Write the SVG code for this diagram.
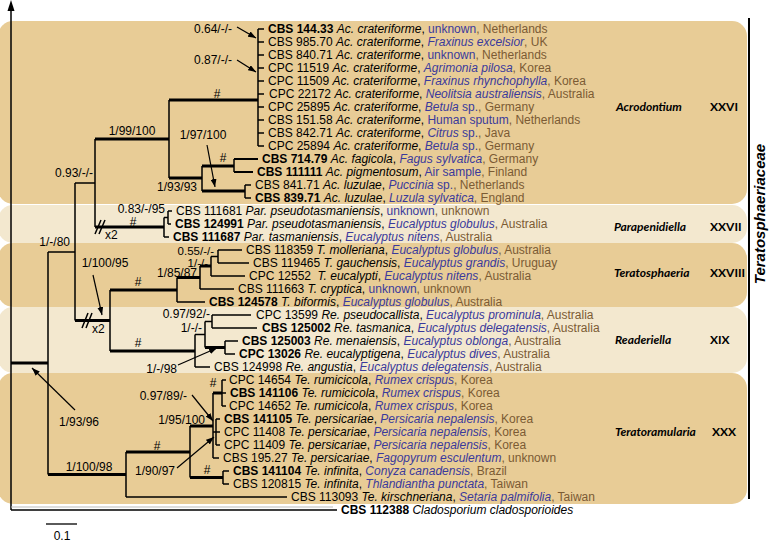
<svg xmlns="http://www.w3.org/2000/svg" width="773" height="544" viewBox="0 0 773 544">
<style>
.t{font-family:"Liberation Sans",Arial,sans-serif;font-size:12px;fill:#000}
.b{font-weight:bold}
.i{font-style:italic}
.h{fill:#3a3a9c}
.c{fill:#7b5b34}
.cl{font-family:Lato,"Liberation Sans",sans-serif;font-size:12px;font-weight:bold;fill:#000}
.br{stroke:#000;stroke-width:1.5;fill:none}
.tk{stroke:#000;stroke-width:3;fill:none}
.md{stroke:#000;stroke-width:2;fill:none}
.ar{stroke:#000;stroke-width:1.2;fill:none;marker-end:url(#ah)}
.box1{fill:#e8cc96}
.box2{fill:#f3e8cf}
</style>
<defs>
<marker id="ah" viewBox="0 0 8 6" refX="8" refY="3" markerWidth="8" markerHeight="6" orient="auto" markerUnits="userSpaceOnUse"><path d="M0,0 L8,3 L0,6 z" fill="#000"/></marker>
</defs>
<rect width="773" height="544" fill="#fff"/>
<g id="clade-boxes">
<rect class="box1" x="-2" y="21" width="749" height="183" rx="15"/>
<rect class="box2" x="-2" y="205" width="749" height="38" rx="15"/>
<rect class="box1" x="-2" y="243" width="749" height="64" rx="15"/>
<rect class="box2" x="-2" y="307" width="749" height="66" rx="15"/>
<rect class="box1" x="-2" y="373" width="749" height="131" rx="15"/>
</g>
<g id="axis">
<line x1="11" y1="9" x2="11" y2="510" stroke="#000" stroke-width="1.5"/>
<path d="M11,0 L7.5,11 L14.5,11 Z" fill="#000"/>
<line x1="11" y1="507" x2="333" y2="507" stroke="#bbb" stroke-width="1"/>
</g>
<g id="connectors">
<path class="br" d="M48,252V474.5 M75,183V320.5 M95,139V227 M169,100V178 M258,29V146 M202,166V191 M234,159V172 M245,185V198 M164,217.5V237 M168,211V224 M110,290V351 M177,277.5V302 M200,266V289 M211,256.5V276 M218,250V263 M195,334.5V367 M205,321.5V347.5 M212,315V328 M225,341V354 M126,452V497 M190,426V477.5 M213,393V458 M222,380V406 M216,419V445 M223,471V484"/>
<path class="br" d="M48,252H75 M75,183H95 M164,217.5H168 M211,256.5H218 M195,334.5H205 M205,321.5H212 M213,432H216"/>
<path class="tk" d="M11,363H48 M95,139H169 M169,100H258 M169,178H202 M202,166H234 M202,191H245 M95,227H164 M75,320.5H110 M110,290H177 M177,277.5H200 M200,266H211 M110,351H195 M205,347.5H225 M48,474.5H126 M126,452H190 M190,426H213 M213,393H222 M190,477.5H223"/>
<path class="br" d="M258,29H264 M258,42H264 M258,55H264 M258,68H264 M258,81H264 M258,94H264 M258,107H264 M258,120H264 M258,133H264 M258,146H264"/>
<path class="md" d="M234,159H258 M234,172H253"/>
<path class="br" d="M245,185H251 M245,198H251 M168,211H172 M168,224H171 M164,237H169 M218,250H242 M218,263H249 M211,276H245 M200,289H234 M177,302H205 M212,315H251 M212,328H257 M225,341H238 M225,354H235 M195,367H210 M222,380H226 M222,393H226 M222,406H226 M216,419H220 M216,432H220 M216,445H220 M213,458H219 M223,471H229 M223,484H229 M126,497H287 M11,510H337"/>
<path class="br" d="M95,234L101,220 M99,234L105,220 M82,328L88,313 M86,328L92,313"/>
<line class="ar" x1="237" y1="27" x2="256" y2="38"/>
<line class="ar" x1="237" y1="60" x2="256" y2="72"/>
<line class="ar" x1="207" y1="145" x2="215" y2="187"/>
<line class="ar" x1="93" y1="275" x2="102" y2="315"/>
<line class="ar" x1="178" y1="365" x2="217" y2="348"/>
<line class="ar" x1="75" y1="410" x2="32" y2="368"/>
<line class="ar" x1="192" y1="395" x2="213" y2="421"/>
<line class="ar" x1="177" y1="468" x2="214" y2="437"/>
</g>
<g id="support-values" class="t">
<text x="232" y="33" text-anchor="end">0.64/-/-</text>
<text x="232" y="64" text-anchor="end">0.87/-/-</text>
<text x="217" y="98" text-anchor="middle">#</text>
<text x="132" y="135" text-anchor="middle">1/99/100</text>
<text x="93" y="177" text-anchor="end">0.93/-/-</text>
<text x="203" y="139" text-anchor="middle">1/97/100</text>
<text x="223" y="162" text-anchor="middle">#</text>
<text x="197" y="191" text-anchor="end">1/93/93</text>
<text x="165" y="213" text-anchor="end">0.83/-/95</text>
<text x="133" y="226" text-anchor="middle">#</text>
<text x="105" y="239">x2</text>
<text x="70" y="246" text-anchor="end">1/-/80</text>
<text x="105" y="267" text-anchor="middle">1/100/95</text>
<text x="138" y="286" text-anchor="middle">#</text>
<text x="214" y="254.5" text-anchor="end" font-size="11.5">0.55/-/-</text>
<text x="208" y="266.5" text-anchor="end" font-size="11.5">1/-/-</text>
<text x="197" y="277" text-anchor="end">1/85/87</text>
<text x="210" y="318" text-anchor="end">0.97/92/-</text>
<text x="202" y="332" text-anchor="end">1/-/-</text>
<text x="92" y="333">x2</text>
<text x="138" y="347" text-anchor="middle">#</text>
<text x="177" y="373" text-anchor="end">1/-/98</text>
<text x="79" y="426" text-anchor="middle">1/93/96</text>
<text x="213" y="387" text-anchor="middle">#</text>
<text x="187" y="400" text-anchor="end">0.97/89/-</text>
<text x="205" y="424" text-anchor="end">1/95/100</text>
<text x="157" y="450" text-anchor="middle">#</text>
<text x="89" y="471" text-anchor="middle">1/100/98</text>
<text x="175" y="475" text-anchor="end">1/90/97</text>
<text x="207" y="474" text-anchor="middle">#</text>
</g>
<g id="taxa" class="t">
<g id="r01"><text x="268" y="33"><tspan class="b">CBS 144.33</tspan> <tspan class="i">Ac. crateriforme</tspan>, <tspan class="h">unknown</tspan><tspan class="c">, Netherlands</tspan></text></g>
<g id="r02"><text x="268" y="46">CBS 985.70 <tspan class="i">Ac. crateriforme</tspan>, <tspan class="h i">Fraxinus excelsior</tspan><tspan class="c">, UK</tspan></text></g>
<g id="r03"><text x="268" y="59">CBS 840.71 <tspan class="i">Ac. crateriforme</tspan>, <tspan class="h">unknown</tspan><tspan class="c">, Netherlands</tspan></text></g>
<g id="r04"><text x="268" y="72">CPC 11519 <tspan class="i">Ac. crateriforme</tspan>, <tspan class="h i">Agrimonia pilosa</tspan><tspan class="c">, Korea</tspan></text></g>
<g id="r05"><text x="268" y="85">CPC 11509 <tspan class="i">Ac. crateriforme</tspan>, <tspan class="h i">Fraxinus rhynchophylla</tspan><tspan class="c">, Korea</tspan></text></g>
<g id="r06"><text x="269" y="98">CPC 22172 <tspan class="i">Ac. crateriforme</tspan>, <tspan class="h i">Neolitsia australiensis</tspan><tspan class="c">, Australia</tspan></text></g>
<g id="r07"><text x="268" y="111">CPC 25895 <tspan class="i">Ac. crateriforme</tspan>, <tspan class="h"><tspan class="i">Betula</tspan> sp.</tspan><tspan class="c">, Germany</tspan></text></g>
<g id="r08"><text x="268" y="124">CBS 151.58 <tspan class="i">Ac. crateriforme</tspan>, <tspan class="h">Human sputum</tspan><tspan class="c">, Netherlands</tspan></text></g>
<g id="r09"><text x="268" y="137">CBS 842.71 <tspan class="i">Ac. crateriforme</tspan>, <tspan class="h"><tspan class="i">Citrus</tspan> sp.</tspan><tspan class="c">, Java</tspan></text></g>
<g id="r10"><text x="268" y="150">CPC 25894 <tspan class="i">Ac. crateriforme</tspan>, <tspan class="h"><tspan class="i">Betula</tspan> sp.</tspan><tspan class="c">, Germany</tspan></text></g>
<g id="r11"><text x="262" y="163"><tspan class="b">CBS 714.79</tspan> <tspan class="i">Ac. fagicola</tspan>, <tspan class="h i">Fagus sylvatica</tspan><tspan class="c">, Germany</tspan></text></g>
<g id="r12"><text x="257" y="176"><tspan class="b">CBS 111111</tspan> <tspan class="i">Ac. pigmentosum</tspan>, <tspan class="h">Air sample</tspan><tspan class="c">, Finland</tspan></text></g>
<g id="r13"><text x="255" y="189">CBS 841.71 <tspan class="i">Ac. luzulae</tspan>, <tspan class="h"><tspan class="i">Puccinia</tspan> sp.</tspan><tspan class="c">, Netherlands</tspan></text></g>
<g id="r14"><text x="255" y="202"><tspan class="b">CBS 839.71</tspan> <tspan class="i">Ac. luzulae</tspan>, <tspan class="h i">Luzula sylvatica</tspan><tspan class="c">, England</tspan></text></g>
<g id="r15"><text x="176" y="215">CBS 111681 <tspan class="i">Par. pseudotasmaniensis</tspan>, <tspan class="h">unknown</tspan><tspan class="c">, unknown</tspan></text></g>
<g id="r16"><text x="175" y="228"><tspan class="b">CBS 124991</tspan> <tspan class="i">Par. pseudotasmaniensis</tspan>, <tspan class="h i">Eucalyptus globulus</tspan><tspan class="c">, Australia</tspan></text></g>
<g id="r17"><text x="173" y="241"><tspan class="b">CBS 111687</tspan> <tspan class="i">Par. tasmaniensis</tspan>, <tspan class="h i">Eucalyptus nitens</tspan><tspan class="c">, Australia</tspan></text></g>
<g id="r18"><text x="246" y="254">CBS 118359 <tspan class="i">T. molleriana</tspan>, <tspan class="h i">Eucalyptus globulus</tspan><tspan class="c">, Australia</tspan></text></g>
<g id="r19"><text x="253" y="267">CBS 119465 <tspan class="i">T. gauchensis</tspan>, <tspan class="h i">Eucalyptus grandis</tspan><tspan class="c">, Uruguay</tspan></text></g>
<g id="r20"><text x="249" y="280">CPC 12552 <tspan class="i" dx="3">T. eucalypti</tspan>, <tspan class="h i">Eucalyptus nitens</tspan><tspan class="c">, Australia</tspan></text></g>
<g id="r21"><text x="238" y="293">CBS 111663 <tspan class="i">T. cryptica</tspan>, <tspan class="h">unknown</tspan><tspan class="c">, unknown</tspan></text></g>
<g id="r22"><text x="209" y="306"><tspan class="b">CBS 124578</tspan> <tspan class="i">T. biformis</tspan>, <tspan class="h i">Eucalyptus globulus</tspan><tspan class="c">, Australia</tspan></text></g>
<g id="r23"><text x="256" y="319">CPC 13599 <tspan class="i">Re. pseudocallista</tspan>, <tspan class="h i">Eucalyptus prominula</tspan><tspan class="c">, Australia</tspan></text></g>
<g id="r24"><text x="262" y="332"><tspan class="b">CBS 125002</tspan> <tspan class="i">Re. tasmanica</tspan>, <tspan class="h i">Eucalyptus delegatensis</tspan><tspan class="c">, Australia</tspan></text></g>
<g id="r25"><text x="242" y="345"><tspan class="b">CBS 125003</tspan> <tspan class="i">Re. menaiensis</tspan>, <tspan class="h i">Eucalyptus oblonga</tspan><tspan class="c">, Australia</tspan></text></g>
<g id="r26"><text x="239" y="358"><tspan class="b">CPC 13026</tspan> <tspan class="i">Re. eucalyptigena</tspan>, <tspan class="h i">Eucalyptus dives</tspan><tspan class="c">, Australia</tspan></text></g>
<g id="r27"><text x="214" y="371">CBS 124998 <tspan class="i">Re. angustia</tspan>, <tspan class="h i">Eucalyptus delegatensis</tspan><tspan class="c">, Australia</tspan></text></g>
<g id="r28"><text x="229" y="384">CPC 14654 <tspan class="i">Te. rumicicola</tspan>, <tspan class="h i">Rumex crispus</tspan><tspan class="c">, Korea</tspan></text></g>
<g id="r29"><text x="230" y="397"><tspan class="b">CBS 141106</tspan> <tspan class="i">Te. rumicicola</tspan>, <tspan class="h i">Rumex crispus</tspan><tspan class="c">, Korea</tspan></text></g>
<g id="r30"><text x="229" y="410">CPC 14652 <tspan class="i">Te. rumicicola</tspan>, <tspan class="h i">Rumex crispus</tspan><tspan class="c">, Korea</tspan></text></g>
<g id="r31"><text x="224" y="423"><tspan class="b">CBS 141105</tspan> <tspan class="i">Te. persicariae</tspan>, <tspan class="h i">Persicaria nepalensis</tspan><tspan class="c">, Korea</tspan></text></g>
<g id="r32"><text x="224" y="436">CPC 11408 <tspan class="i">Te. persicariae</tspan>, <tspan class="h i">Persicaria nepalensis</tspan><tspan class="c">, Korea</tspan></text></g>
<g id="r33"><text x="224" y="449">CPC 11409 <tspan class="i">Te. persicariae</tspan>, <tspan class="h i">Persicaria nepalensis</tspan><tspan class="c">, Korea</tspan></text></g>
<g id="r34"><text x="223" y="462">CBS 195.27 <tspan class="i">Te. persicariae</tspan>, <tspan class="h i">Fagopyrum esculentum</tspan><tspan class="c">, unknown</tspan></text></g>
<g id="r35"><text x="233" y="475"><tspan class="b">CBS 141104</tspan> <tspan class="i">Te. infinita</tspan>, <tspan class="h i">Conyza canadensis</tspan><tspan class="c">, Brazil</tspan></text></g>
<g id="r36"><text x="233" y="488">CBS 120815 <tspan class="i">Te. infinita</tspan>, <tspan class="h i">Thlandiantha punctata</tspan><tspan class="c">, Taiwan</tspan></text></g>
<g id="r37"><text x="291" y="501">CBS 113093 <tspan class="i">Te. kirschneriana</tspan>, <tspan class="h i">Setaria palmifolia</tspan><tspan class="c">, Taiwan</tspan></text></g>
<g id="r38"><text x="341" y="514"><tspan class="b">CBS 112388</tspan> <tspan class="i">Cladosporium cladosporioides</tspan></text></g>
</g>
<g id="clade-labels">
<g id="lab-acrodontium"><text class="cl" x="616" y="111" font-style="italic">Acrodontium</text><text class="cl" x="710" y="111">XXVI</text></g>
<g id="lab-parapenidiella"><text class="cl" x="614" y="231" font-style="italic">Parapenidiella</text><text class="cl" x="710" y="231">XXVII</text></g>
<g id="lab-teratosphaeria"><text class="cl" x="614" y="277" font-style="italic">Teratosphaeria</text><text class="cl" x="710" y="277">XXVIII</text></g>
<g id="lab-readeriella"><text class="cl" x="615" y="344" font-style="italic">Readeriella</text><text class="cl" x="710" y="344">XIX</text></g>
<g id="lab-teratoramularia"><text class="cl" x="615" y="436" font-style="italic">Teratoramularia</text><text class="cl" x="712" y="436">XXX</text></g>
<g id="lab-family"><line x1="749" y1="18" x2="749" y2="499" stroke="#000" stroke-width="2"/><text transform="translate(765,214) rotate(-90)" text-anchor="middle" font-family="Liberation Sans,Arial,sans-serif" font-size="15" font-weight="bold" font-style="italic">Teratosphaeriaceae</text></g>
</g>
<g id="scale-bar">
<line x1="46" y1="524" x2="77" y2="524" stroke="#000" stroke-width="1.3"/>
<text class="t" x="62" y="540" text-anchor="middle">0.1</text>
</g>
</svg>
